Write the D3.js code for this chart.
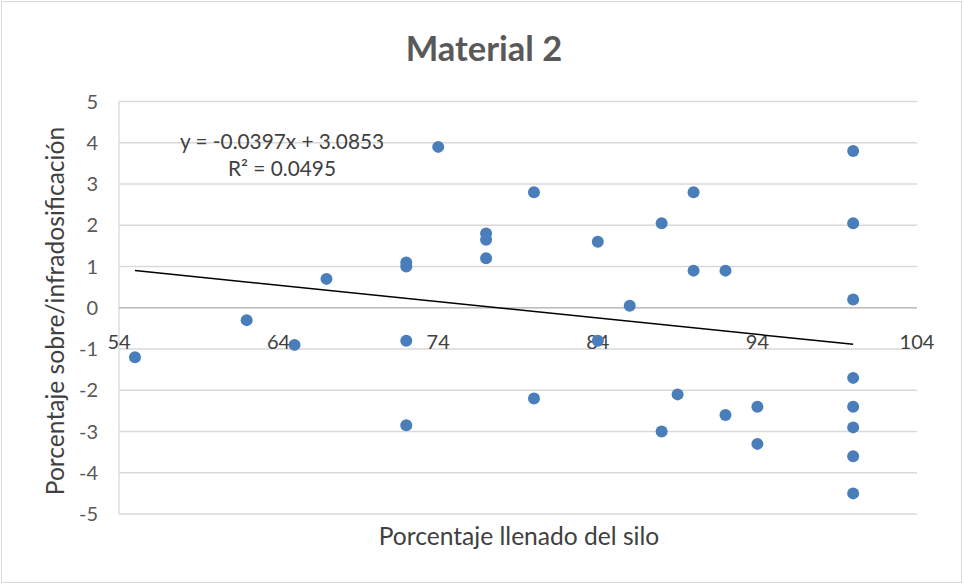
<!DOCTYPE html>
<html><head><meta charset="utf-8">
<script src="https://cdn.jsdelivr.net/npm/d3@7"></script>
<style>body{margin:0;background:#fff}svg{display:block}</style>
</head><body>
<script>
const xValues = [55,62,65,67,72,72,72,72,74,77,77,77,80,80,84,84,86,88,88,89,90,90,92,92,94,94,100,100,100,100,100,100,100,100];
const yValues = [-1.2,-0.3,-0.9,0.7,1.1,1.0,-0.8,-2.85,3.9,1.8,1.65,1.2,2.8,-2.2,1.6,-0.8,0.05,2.05,-3.0,-2.1,2.8,0.9,0.9,-2.6,-2.4,-3.3,3.8,2.05,0.2,-1.7,-2.4,-2.9,-3.6,-4.5];
const xTicks = [54,64,74,84,94,104];
const yTicks = [5,4,3,2,1,0,-1,-2,-3,-4,-5];
const trendSlope = -0.0397, trendIntercept = 3.0853;
const trendRange = [55,100];
const equationText = "y = -0.0397x + 3.0853";
const r2Text = "R² = 0.0495";

const W=964,H=585;
const font="Lato, 'Open Sans', sans-serif";
const svg=d3.select("body").append("svg").attr("width",W).attr("height",H);
svg.append("rect").attr("x",1.5).attr("y",1.5).attr("width",W-4).attr("height",H-4).attr("fill","#fff").attr("stroke","#d9d9d9");

const x=d3.scaleLinear().domain([54,104]).range([119,917]);
const y=d3.scaleLinear().domain([-5,5]).range([514,101.5]);

svg.append("g").selectAll("line").data(yTicks).join("line")
 .attr("x1",x(54)).attr("x2",x(104)).attr("y1",d=>y(d)).attr("y2",d=>y(d))
 .attr("stroke","#d9d9d9").attr("stroke-width",1.3);
svg.append("line").attr("x1",x(54)).attr("x2",x(54)).attr("y1",y(5)).attr("y2",y(-5)).attr("stroke","#d9d9d9").attr("stroke-width",1.3);
svg.append("line").attr("x1",x(54)).attr("x2",x(104)).attr("y1",y(0)).attr("y2",y(0)).attr("stroke","#bfbfbf").attr("stroke-width",1.3);

svg.append("g").selectAll("text").data(yTicks).join("text")
 .attr("x",x(54)-21).attr("y",d=>y(d)+7).attr("text-anchor","end")
 .attr("font-family",font).attr("font-size",20).attr("fill","#595959").text(d=>d);
svg.append("g").selectAll("text").data(xTicks).join("text")
 .attr("x",d=>x(d)).attr("y",y(0)+41).attr("text-anchor","middle")
 .attr("font-family",font).attr("font-size",20).attr("fill","#404040").text(d=>d);

svg.append("line").attr("x1",x(trendRange[0])).attr("y1",y(trendSlope*trendRange[0]+trendIntercept))
 .attr("x2",x(trendRange[1])).attr("y2",y(trendSlope*trendRange[1]+trendIntercept))
 .attr("stroke","#000").attr("stroke-width",1.5);

svg.append("g").selectAll("circle").data(xValues.map((v,i)=>[v,yValues[i]])).join("circle")
 .attr("cx",d=>x(d[0])).attr("cy",d=>y(d[1])).attr("r",6).attr("fill","#4a7ebb");

svg.append("text").attr("x",282).attr("y",149).attr("text-anchor","middle").attr("font-family",font).attr("font-size",20.8).attr("fill","#404040").text(equationText);
svg.append("text").attr("x",282).attr("y",176).attr("text-anchor","middle").attr("font-family",font).attr("font-size",20.8).attr("fill","#404040").text(r2Text);

svg.append("text").attr("x",484).attr("y",61).attr("text-anchor","middle").attr("font-family",font).attr("font-weight","bold").attr("font-size",34.5).attr("fill","#595959").text("Material 2");
svg.append("text").attr("x",519).attr("y",545).attr("text-anchor","middle").attr("font-family",font).attr("font-size",24.6).attr("fill","#404040").text("Porcentaje llenado del silo");
svg.append("text").attr("transform","translate(64,311) rotate(-90)").attr("text-anchor","middle").attr("font-family",font).attr("font-size",24.6).attr("fill","#404040").text("Porcentaje sobre/infradosificación");
</script>
</body></html>
